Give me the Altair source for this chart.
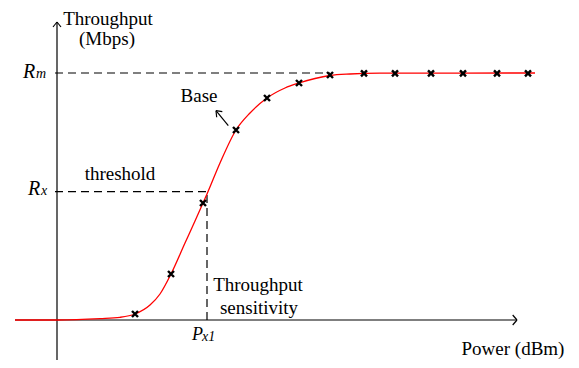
import altair as alt
import pandas as pd

# ---- data (chart units: power offset from the throughput axis, throughput height above power axis) ----
curve_x = [-43, 0, 42, 62, 77, 92, 102, 113, 127, 137, 145, 149, 162, 178, 192, 209, 227, 241, 257, 272, 292, 322, 477]
curve_y = [0, 0, 1.4, 2.7, 6, 15, 26, 46, 77, 99, 117, 126, 157, 190, 207, 222, 232, 237, 241.5, 244.5, 246, 246.8, 247]

meas_x = [77, 113, 145, 178, 209, 241, 272, 306, 337, 373, 405, 439, 470]
meas_y = [6, 46, 117, 190, 222, 237, 245, 246.7, 246.7, 246.7, 246.7, 246.7, 246.7]

R_m = 247
R_x = 128.3
P_x1 = 149

# axes / arrows / guide segments
solid_x1 = [-1, -43, -1, -1, 459, 459, 170.3, 158, 158]
solid_y1 = [-40, 0, 298, 298, 0, 0, 194.3, 209.3, 209.3]
solid_x2 = [-1, 459, -5, 3, 454.7, 454.7, 158, 164.3, 158.7]
solid_y2 = [298, 0, 293, 293, 5, -5, 209.3, 208.3, 202.7]

dash_x1 = [-3, -3, P_x1]
dash_y1 = [R_m, R_x, 0]
dash_x2 = [272, P_x1, P_x1]
dash_y2 = [R_m, R_x, R_x]

# labels
lab_text = ["Throughput", "(Mbps)", "threshold", "Base", "Throughput", "sensitivity", "Power (dBm)"]
lab_x = [50, 49, 62, 141, 200, 201, 455]
lab_y = [295, 275, 140, 218, 29, 6, -35]

it_text = ["R", "m", "R", "x", "P", "x1"]
it_x = [-35, -22, -30, -17, 134, 144]
it_y = [242, 242, 125.5, 125.5, -20, -21]
it_size = [20, 14, 20, 14, 18, 14]

XD = [-50, 513]
YD = [-40, 312]
FONT = "Liberation Serif, Times New Roman, serif"

xs = lambda f: alt.X(f, type="quantitative", scale=alt.Scale(domain=XD, nice=False, zero=False), axis=None)
ys = lambda f: alt.Y(f, type="quantitative", scale=alt.Scale(domain=YD, nice=False, zero=False), axis=None)

curve_df = pd.DataFrame({"x": curve_x, "y": curve_y})
meas_df = pd.DataFrame({"x": meas_x, "y": meas_y})
solid_df = pd.DataFrame({"x": solid_x1, "y": solid_y1, "x2": solid_x2, "y2": solid_y2})
dash_df = pd.DataFrame({"x": dash_x1, "y": dash_y1, "x2": dash_x2, "y2": dash_y2})
lab_df = pd.DataFrame({"t": lab_text, "x": lab_x, "y": lab_y})
it_df = pd.DataFrame({"t": it_text, "x": it_x, "y": it_y, "s": it_size})

solid = alt.Chart(solid_df).mark_rule(color="black", strokeWidth=1.2).encode(
    x=xs("x"), y=ys("y"), x2="x2", y2="y2")
dashed = alt.Chart(dash_df).mark_rule(color="black", strokeWidth=1.2, strokeDash=[8, 5]).encode(
    x=xs("x"), y=ys("y"), x2="x2", y2="y2")
curve = alt.Chart(curve_df).mark_line(color="#ff0000", strokeWidth=1.3, interpolate="monotone").encode(
    x=xs("x"), y=ys("y"))
pts = alt.Chart(meas_df).mark_point(
    shape="M -1 -1 L 1 1 M -1 1 L 1 -1", color="black", strokeWidth=2.4, size=36, filled=False, opacity=1
).encode(x=xs("x"), y=ys("y"))
labels = alt.Chart(lab_df).mark_text(
    font=FONT, fontSize=19, color="black", align="center", baseline="alphabetic"
).encode(x=xs("x"), y=ys("y"), text="t")
ital = alt.Chart(it_df).mark_text(
    font=FONT, fontStyle="italic", color="black", align="left", baseline="alphabetic"
).encode(x=xs("x"), y=ys("y"), text="t", size=alt.Size("s:Q", scale=None, legend=None))

chart = alt.layer(solid, dashed, curve, pts, labels, ital).properties(
    width=563, height=352, padding=0, autosize=alt.AutoSizeParams(type="none"), background="white"
).configure_view(stroke=None)

chart.save("out.html", embed_options={"renderer": "svg", "actions": False})
